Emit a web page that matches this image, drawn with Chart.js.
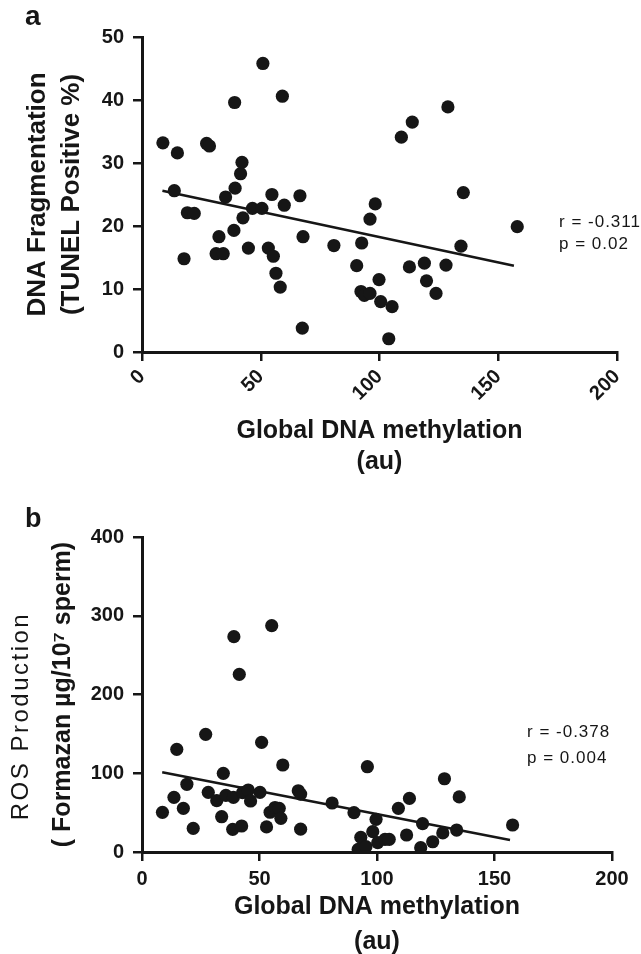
<!DOCTYPE html>
<html>
<head>
<meta charset="utf-8">
<script src="https://cdn.jsdelivr.net/npm/chart.js@4.4.1/dist/chart.umd.min.js"></script>
<style>
  body { margin: 0; background: #fff; width: 641px; height: 954px; overflow: hidden; position: relative; }
  canvas { position: absolute; left: 0; }
  #chartA { top: 0; }
  #chartB { top: 477px; }
</style>
</head>
<body>
<canvas id="chartA" width="641" height="477"></canvas>
<canvas id="chartB" width="641" height="490"></canvas>
<script>
// panel a: global DNA methylation vs TUNEL positive %
const methA = [8.8, 13.6, 14.9, 17.7, 19.1, 22.0, 27.2, 28.4, 31.2, 32.4, 34.2, 35.2, 38.7, 39.0, 39.2, 41.5, 42.1, 42.5, 44.8, 46.5,
               50.5, 50.9, 53.2, 54.7, 55.3, 56.4, 58.2, 59.1, 59.9, 66.5, 67.5, 67.8, 80.8, 90.4, 92.2, 92.5, 93.6, 96.0, 96.0, 98.2,
               99.8, 100.5, 103.9, 105.3, 109.2, 112.6, 113.8, 118.9, 119.8, 123.8, 128.0, 128.8, 134.3, 135.3, 158.0];
const tunel = [33.2, 25.6, 31.6, 14.8, 22.1, 22.0, 33.1, 32.7, 15.6, 18.3, 15.6, 24.6, 19.3, 39.6, 26.0, 28.3, 30.1, 21.3, 16.5, 22.8,
               22.8, 45.8, 16.5, 25.0, 15.2, 12.5, 10.3, 40.6, 23.3, 24.8, 3.8, 18.3, 16.9, 13.7, 9.6, 17.3, 9.0, 9.3, 21.1, 23.5,
               11.5, 8.0, 2.1, 7.2, 34.1, 13.5, 36.5, 14.1, 11.3, 9.3, 13.8, 38.9, 16.8, 25.3, 19.9];
const fitAx = [8.6, 156.6];
const fitAy = [25.6, 13.7];

// panel b: global DNA methylation vs ROS production
const methB = [8.7, 13.6, 14.8, 17.6, 19.1, 21.8, 27.1, 28.2, 31.8, 33.9, 34.6, 35.7, 38.6, 38.9, 39.1, 41.4, 42.4, 42.8, 45.2, 46.2,
               50.2, 50.9, 53.0, 54.5, 55.2, 56.6, 58.4, 59.1, 59.9, 66.5, 67.5, 67.5, 80.9, 90.2, 92.0, 93.1, 95.3, 95.9, 98.2, 99.6,
               100.3, 103.4, 105.2, 109.1, 112.6, 113.8, 118.6, 119.4, 123.7, 128.0, 128.7, 133.9, 135.0, 157.7];
const ros = [50.4, 69.4, 130.4, 55.5, 86.0, 30.1, 149.4, 75.8, 65.2, 44.8, 99.9, 72.0, 28.8, 69.4, 273.4, 225.6, 33.0, 75.5, 78.7, 64.8,
             75.8, 139.3, 31.8, 50.5, 287.4, 56.5, 55.5, 42.8, 110.5, 77.8, 73.5, 29.0, 62.2, 49.9, 3.4, 18.6, 6.7, 108.3, 25.8, 41.5,
             11.8, 16.1, 16.1, 55.5, 21.6, 68.0, 5.5, 36.0, 13.0, 24.2, 93.0, 27.9, 70.0, 34.3];
const fitBx = [8.6, 156.6];
const fitBy = [101.2, 15.2];

const xTicks = [0, 50, 100, 150, 200];
const yTicksA = [0, 10, 20, 30, 40, 50];
const yTicksB = [0, 100, 200, 300, 400];

const FONT = "'Liberation Sans', Arial, Helvetica, sans-serif";
const INK = '#161616';

function pairs(xs, ys) {
  return xs.map((x, i) => ({ x: x, y: ys[i] }));
}

// free text drawn on top (panel letter, r/p values, extra axis line)
const notes = {
  id: 'notes',
  afterDraw(chart, args, opts) {
    const ctx = chart.ctx;
    opts.items.forEach(t => {
      ctx.save();
      ctx.fillStyle = INK;
      ctx.font = t.font;
      ctx.letterSpacing = t.spacing || '0px';
      ctx.textAlign = t.align || 'left';
      ctx.textBaseline = t.baseline || 'middle';
      ctx.translate(t.x, t.y);
      if (t.rotate) ctx.rotate(-Math.PI / 2);
      ctx.fillText(t.text, 0, 0);
      ctx.restore();
    });
  }
};

function makeChart(id, cfg) {
  const axisBorder = { display: true, color: INK, width: 3 };
  const tickGrid = { drawOnChartArea: false, drawTicks: true, tickLength: 9, color: INK, lineWidth: 2.5 };
  const tickFont = { family: FONT, size: 20, weight: 'bold' };

  return new Chart(document.getElementById(id), {
    type: 'scatter',
    data: {
      datasets: [{
        data: pairs(cfg.xs, cfg.ys),
        backgroundColor: INK,
        borderWidth: 0,
        pointRadius: 6.6,
        pointHoverRadius: 6.6
      }, {
        type: 'line',
        data: pairs(cfg.fitX, cfg.fitY),
        borderColor: INK,
        borderWidth: 2.6,
        pointRadius: 0,
        showLine: true,
        fill: false
      }]
    },
    options: {
      responsive: false,
      animation: false,
      devicePixelRatio: 1,
      layout: { padding: cfg.padding },
      plugins: {
        legend: { display: false },
        tooltip: { enabled: false },
        notes: { items: cfg.notes }
      },
      scales: {
        x: {
          type: 'linear',
          min: 0, max: 200,
          afterBuildTicks: s => { s.ticks = xTicks.map(v => ({ value: v })); },
          ticks: {
            minRotation: cfg.rot, maxRotation: cfg.rot,
            padding: cfg.xPad,
            color: INK,
            font: tickFont
          },
          grid: tickGrid,
          border: axisBorder,
          title: {
            display: true,
            text: ['Global DNA methylation', '(au)'],
            color: INK,
            font: { family: FONT, size: 25, weight: 'bold', lineHeight: cfg.xTitleLH },
            padding: { top: 0, bottom: cfg.xTitlePad }
          },
          afterFit: s => { s.height = cfg.xH; }
        },
        y: {
          type: 'linear',
          min: 0, max: cfg.yMax,
          afterBuildTicks: s => { s.ticks = cfg.yTicks.map(v => ({ value: v })); },
          ticks: { padding: 9, color: INK, font: tickFont },
          grid: tickGrid,
          border: axisBorder,
          title: {
            display: true,
            text: cfg.yTitle,
            color: INK,
            font: cfg.yTitleFont,
            padding: { top: cfg.yTitlePad, bottom: 0 }
          },
          afterFit: s => { s.width = 142; }
        }
      }
    },
    plugins: [notes]
  });
}

makeChart('chartA', {
  xs: methA, ys: tunel, fitX: fitAx, fitY: fitAy,
  yMax: 50, yTicks: yTicksA,
  padding: { top: 37, right: 24, left: 0, bottom: 0 },
  rot: 45, xPad: 4, xH: 125, xTitleLH: 1.22, xTitlePad: 0,
  yTitle: ['DNA Fragmentation', '(TUNEL Positive %)'],
  yTitleFont: { family: FONT, size: 26, weight: 'bold', lineHeight: 1.3 },
  yTitlePad: 21,
  notes: [
    { text: 'a', x: 25, y: 25, baseline: 'alphabetic', font: 'bold 28px ' + FONT },
    { text: 'r = -0.311', x: 559, y: 222, font: '17px ' + FONT, spacing: '1px' },
    { text: 'p = 0.02', x: 559, y: 244, font: '17px ' + FONT, spacing: '1px' }
  ]
});

makeChart('chartB', {
  xs: methB, ys: ros, fitX: fitBx, fitY: fitBy,
  yMax: 400, yTicks: yTicksB,
  padding: { top: 60, right: 29, left: 0, bottom: 0 },
  rot: 0, xPad: 6, xH: 115, xTitleLH: 1.38, xTitlePad: 8,
  yTitle: '( Formazan \u00b5g/10\u2077 sperm)',
  yTitleFont: { family: FONT, size: 25, weight: 'bold', lineHeight: 1.2 },
  yTitlePad: 48,
  notes: [
    { text: 'b', x: 25, y: 50, baseline: 'alphabetic', font: 'bold 27px ' + FONT },
    { text: 'ROS Production', x: 21, y: 239, align: 'center', rotate: true, font: '24px ' + FONT, spacing: '2.5px' },
    { text: 'r = -0.378', x: 527, y: 255, font: '17px ' + FONT, spacing: '1px' },
    { text: 'p = 0.004', x: 527, y: 281, font: '17px ' + FONT, spacing: '1px' }
  ]
});
</script>
</body>
</html>
